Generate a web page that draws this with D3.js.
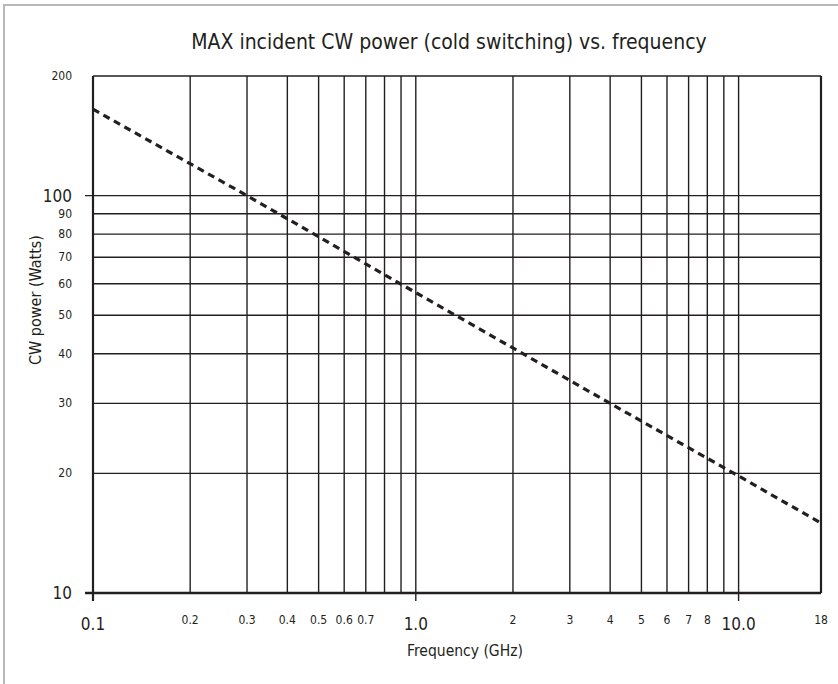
<!DOCTYPE html>
<html>
<head>
<meta charset="utf-8">
<script src="https://cdn.jsdelivr.net/npm/d3@7"></script>
<style>
  body { margin: 0; background: #fff; }
  text { font-family: "Liberation Sans Narrow", "DejaVu Sans Condensed", sans-serif; fill: #231f20; }
</style>
</head>
<body>
<div id="chart"></div>
<script>
const width = 838;
const height = 684;

// dashed rating line (GHz, Watts)
const freqs = [0.1, 0.3, 1, 4, 10, 18];
const watts = [165, 100, 57, 30, 19.7, 15];

const xGrid = [0.1, 0.2, 0.3, 0.4, 0.5, 0.6, 0.7, 0.8, 0.9, 1, 2, 3, 4, 5, 6, 7, 8, 9, 10, 18];
const xBig = [0.1, 1, 10];
const xSmallLabels = [0.2, 0.3, 0.4, 0.5, 0.6, 0.7, 2, 3, 4, 5, 6, 7, 8, 18];
const yGrid = [10, 20, 30, 40, 50, 60, 70, 80, 90, 100, 200];
const yBig = [10, 100];
const ySmallLabels = [20, 30, 40, 50, 60, 70, 80, 90, 200];

const x = d3.scaleLog().domain([0.1, 18]).range([93, 821]);
const y = d3.scaleLog().domain([10, 200]).range([593, 76]);

const svg = d3.select('#chart').append('svg')
  .attr('width', width)
  .attr('height', height);

// page frame (top and left only)
svg.append('path')
  .attr('d', `M4,${height} L4,5 L${width},5`)
  .attr('fill', 'none')
  .attr('stroke', '#b8b8b8')
  .attr('stroke-width', 2);

svg.append('text')
  .attr('x', 449).attr('y', 49)
  .attr('text-anchor', 'middle')
  .style('font-size', '21px')
  .text('MAX incident CW power (cold switching) vs. frequency');

const grid = svg.append('g').attr('stroke', '#231f20');

grid.selectAll('line.v')
  .data(xGrid)
  .enter().append('line')
  .attr('class', 'v')
  .attr('x1', d => x(d)).attr('x2', d => x(d))
  .attr('y1', y(200))
  .attr('y2', d => xBig.includes(d) ? y(10) + 8 : y(10))
  .attr('stroke-width', d => (d === 0.1 || d === 18) ? 2.2 : 1.4);

grid.selectAll('line.h')
  .data(yGrid)
  .enter().append('line')
  .attr('class', 'h')
  .attr('x1', d => yBig.includes(d) ? x(0.1) - 8 : x(0.1))
  .attr('x2', x(18))
  .attr('y1', d => y(d)).attr('y2', d => y(d))
  .attr('stroke-width', d => d === 10 ? 2.6 : 1.4);

// x labels
svg.selectAll('text.xs')
  .data(xSmallLabels)
  .enter().append('text')
  .attr('class', 'xs')
  .attr('x', d => x(d)).attr('y', 624)
  .attr('text-anchor', 'middle')
  .style('font-size', '12px')
  .text(d => d);

svg.selectAll('text.xb')
  .data(xBig)
  .enter().append('text')
  .attr('class', 'xb')
  .attr('x', d => x(d)).attr('y', 630)
  .attr('text-anchor', 'middle')
  .style('font-size', '17px')
  .text(d => d3.format('.1f')(d));

// y labels
svg.selectAll('text.ys')
  .data(ySmallLabels)
  .enter().append('text')
  .attr('class', 'ys')
  .attr('x', 72).attr('y', d => y(d) + 4)
  .attr('text-anchor', 'end')
  .style('font-size', '12px')
  .text(d => d);

svg.selectAll('text.yb')
  .data(yBig)
  .enter().append('text')
  .attr('class', 'yb')
  .attr('x', 72).attr('y', d => y(d) + 6)
  .attr('text-anchor', 'end')
  .style('font-size', '17px')
  .text(d => d);

svg.append('text')
  .attr('transform', 'translate(41,300) rotate(-90)')
  .attr('text-anchor', 'middle')
  .style('font-size', '16px')
  .text('CW power (Watts)');

svg.append('text')
  .attr('x', 465).attr('y', 656)
  .attr('text-anchor', 'middle')
  .style('font-size', '15.5px')
  .text('Frequency (GHz)');

const pts = freqs.map((f, i) => [f, watts[i]]);
const line = d3.line().x(d => x(d[0])).y(d => y(d[1]));

svg.append('path')
  .datum(pts)
  .attr('d', line)
  .attr('fill', 'none')
  .attr('stroke', '#231f20')
  .attr('stroke-width', 3.2)
  .attr('stroke-dasharray', '7,5');
</script>
</body>
</html>
